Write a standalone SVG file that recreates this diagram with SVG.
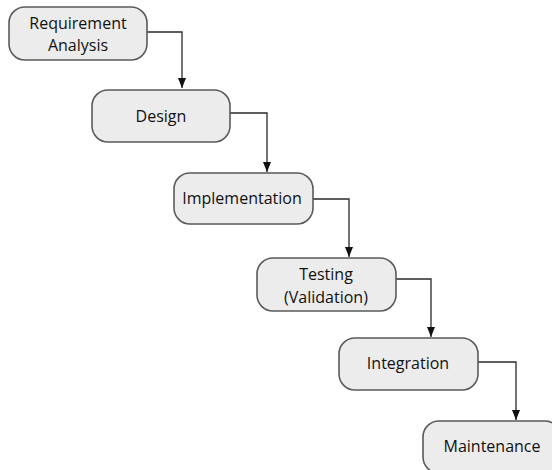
<svg xmlns="http://www.w3.org/2000/svg" width="552" height="470" viewBox="0 0 552 470">
  <defs>
    <style>
      .box { fill: #ececec; stroke: #5a5a5a; stroke-width: 1.6; }
      .lbl { font-family: "Open Sans", "Liberation Sans", sans-serif; font-size: 16px; fill: #111111; text-anchor: middle; }
      .wire { fill: none; stroke: #2a2a2a; stroke-width: 1.3; marker-end: url(#tip); }
    </style>
    <marker id="tip" viewBox="0 0 10 8" refX="10" refY="4" markerWidth="10" markerHeight="8" markerUnits="userSpaceOnUse" orient="auto">
      <path d="M0,0 L10,4 L0,8 Z" fill="#111"/>
    </marker>
  </defs>
  <rect width="552" height="470" fill="#ffffff"/>

  <g id="connectors">
    <path class="wire" d="M147,32 H182 V88"/>
    <path class="wire" d="M230,113 H267 V172"/>
    <path class="wire" d="M313,199 H349 V257"/>
    <path class="wire" d="M396,279 H431 V337"/>
    <path class="wire" d="M478,362 H516 V420"/>
  </g>

  <g id="requirement-analysis">
    <rect class="box" x="9" y="7" width="138" height="53" rx="16"/>
    <text class="lbl" x="78" y="29">Requirement</text>
    <text class="lbl" x="78" y="51">Analysis</text>
  </g>

  <g id="design">
    <rect class="box" x="92" y="90" width="138" height="52" rx="16"/>
    <text class="lbl" x="161" y="122">Design</text>
  </g>

  <g id="implementation">
    <rect class="box" x="174" y="173" width="139" height="51" rx="16"/>
    <text class="lbl" x="242" y="204">Implementation</text>
  </g>

  <g id="testing">
    <rect class="box" x="257" y="258" width="139" height="53" rx="16"/>
    <text class="lbl" x="326" y="280">Testing</text>
    <text class="lbl" x="326" y="303">(Validation)</text>
  </g>

  <g id="integration">
    <rect class="box" x="339" y="338" width="139" height="52" rx="16"/>
    <text class="lbl" x="408" y="369">Integration</text>
  </g>

  <g id="maintenance">
    <rect class="box" x="423" y="421" width="138" height="52" rx="16"/>
    <text class="lbl" x="492" y="452">Maintenance</text>
  </g>
</svg>
